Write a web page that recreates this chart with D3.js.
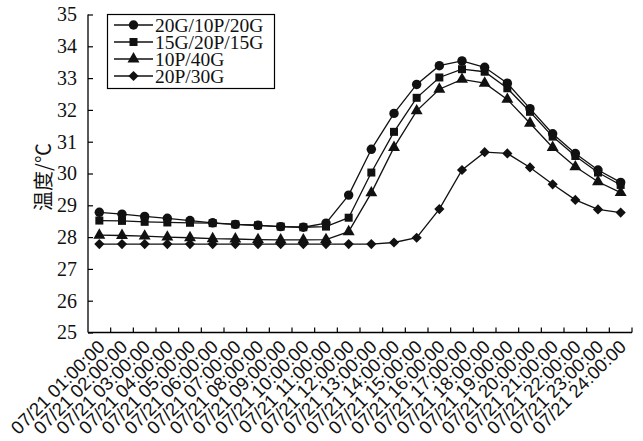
<!DOCTYPE html>
<html>
<head>
<meta charset="utf-8">
<script src="https://cdn.jsdelivr.net/npm/d3@7/dist/d3.min.js"></script>
<style>
  html, body { margin: 0; padding: 0; background: #fff; }
  svg { display: block; }
</style>
</head>
<body>
<svg id="chart" width="643" height="441"></svg>
<script>
const categories = ["07/21 01:00:00","07/21 02:00:00","07/21 03:00:00","07/21 04:00:00","07/21 05:00:00","07/21 06:00:00","07/21 07:00:00","07/21 08:00:00","07/21 09:00:00","07/21 10:00:00","07/21 11:00:00","07/21 12:00:00","07/21 13:00:00","07/21 14:00:00","07/21 15:00:00","07/21 16:00:00","07/21 17:00:00","07/21 18:00:00","07/21 19:00:00","07/21 20:00:00","07/21 21:00:00","07/21 22:00:00","07/21 23:00:00","07/21 24:00:00"];
const seriesNames = ["20G/10P/20G","15G/20P/15G","10P/40G","20P/30G"];
const s1 = [28.78,28.72,28.65,28.59,28.52,28.45,28.40,28.37,28.33,28.31,28.44,29.32,30.76,31.89,32.80,33.39,33.54,33.34,32.84,32.04,31.25,30.63,30.11,29.72];
const s2 = [28.52,28.51,28.48,28.46,28.45,28.44,28.40,28.37,28.33,28.31,28.33,28.61,30.03,31.31,32.38,33.02,33.28,33.20,32.68,31.94,31.16,30.55,30.03,29.64];
const s3 = [28.06,28.05,28.03,28.00,27.98,27.95,27.94,27.92,27.91,27.91,27.92,28.17,29.39,30.82,31.97,32.65,32.96,32.84,32.33,31.58,30.82,30.21,29.74,29.40];
const s4 = [27.78,27.78,27.78,27.78,27.78,27.78,27.78,27.78,27.78,27.78,27.78,27.78,27.78,27.83,27.98,28.88,30.11,30.67,30.63,30.19,29.66,29.17,28.87,28.77];
const yTicks = [25,26,27,28,29,30,31,32,33,34,35];
const yLabel = "温度/℃";

const allSeries = [s1, s2, s3, s4];
const symbols = [d3.symbolCircle, d3.symbolSquare, d3.symbolTriangle, d3.symbolSquare];
const symSizes = [70, 64, 62, 52];
const symRot = [0, 0, 0, 45];

const svg = d3.select("#chart");
const L = 88, R = 632, T = 14.5, B = 332.5;

const x = d3.scaleBand().domain(categories).range([L, R]).padding(0);
const y = d3.scaleLinear().domain([25, 35]).range([B, T]);

const serif = "'Liberation Serif','Times New Roman',serif";
const sans = "'Liberation Sans',Arial,sans-serif";

// Y axis
const yAxis = d3.axisLeft(y).tickValues(yTicks).tickSize(-5).tickPadding(11).tickFormat(d3.format("d"));
const gy = svg.append("g").attr("transform", `translate(${L},0)`).call(yAxis);
gy.select(".domain").attr("d", `M0,${T}V${B}`).attr("stroke", "#000").attr("stroke-width", 1.3);
gy.selectAll(".tick line").attr("stroke", "#000").attr("stroke-width", 1.2);
gy.selectAll(".tick text").attr("font-family", serif).attr("font-size", 20).attr("fill", "#111");

// X axis: line and ticks at band boundaries (pointing up)
const gx = svg.append("g").attr("transform", `translate(0,${B})`);
gx.append("path").attr("d", `M${L},0H${R}`).attr("stroke", "#000").attr("stroke-width", 1.3).attr("fill", "none");
gx.selectAll("line.tk").data(categories).join("line")
  .attr("class", "tk")
  .attr("x1", d => x(d) + x.bandwidth()).attr("x2", d => x(d) + x.bandwidth())
  .attr("y1", 0).attr("y2", -5)
  .attr("stroke", "#000").attr("stroke-width", 1.2);
gx.selectAll("text.lab").data(categories).join("text")
  .attr("class", "lab")
  .attr("transform", d => `translate(${x(d) + x.bandwidth() / 2 + 2},${11}) rotate(-45)`)
  .attr("text-anchor", "end")
  .attr("dy", "0.35em")
  .attr("font-family", sans)
  .attr("font-size", 18.5)
  .attr("fill", "#111")
  .text(d => d);

// Y label
svg.append("text")
  .attr("transform", `translate(44,${177}) rotate(-90)`)
  .attr("text-anchor", "middle")
  .attr("dy", "0.35em")
  .attr("font-family", "'Noto Sans CJK SC',sans-serif")
  .attr("font-size", 20)
  .attr("fill", "#111")
  .text(yLabel);

// Lines and markers
const line = d3.line().x((d, i) => x(categories[i]) + x.bandwidth() / 2).y(d => y(d));
allSeries.forEach((s, k) => {
  svg.append("path").datum(s).attr("d", line)
    .attr("fill", "none").attr("stroke", "#111").attr("stroke-width", 1.3);
});
allSeries.forEach((s, k) => {
  const sym = d3.symbol().type(symbols[k]).size(symSizes[k]);
  svg.append("g").selectAll("path").data(s).join("path")
    .attr("transform", (d, i) => `translate(${x(categories[i]) + x.bandwidth() / 2},${y(d)}) rotate(${symRot[k]})`)
    .attr("d", sym)
    .attr("fill", "#111");
});

// Legend
const lg = svg.append("g");
lg.append("rect").attr("x", 107.5).attr("y", 14.5).attr("width", 167).attr("height", 74)
  .attr("fill", "#fff").attr("stroke", "#000").attr("stroke-width", 1.2);
seriesNames.forEach((n, k) => {
  const cy = 25 + k * 17;
  lg.append("line").attr("x1", 114).attr("x2", 153).attr("y1", cy).attr("y2", cy)
    .attr("stroke", "#111").attr("stroke-width", 1.3);
  lg.append("path").attr("transform", `translate(133.5,${cy}) rotate(${symRot[k]})`)
    .attr("d", d3.symbol().type(symbols[k]).size(symSizes[k])).attr("fill", "#111");
  lg.append("text").attr("x", 155).attr("y", cy).attr("dy", "0.35em")
    .attr("font-family", serif).attr("font-size", 19.5).attr("fill", "#111").text(n);
});
</script>
</body>
</html>
